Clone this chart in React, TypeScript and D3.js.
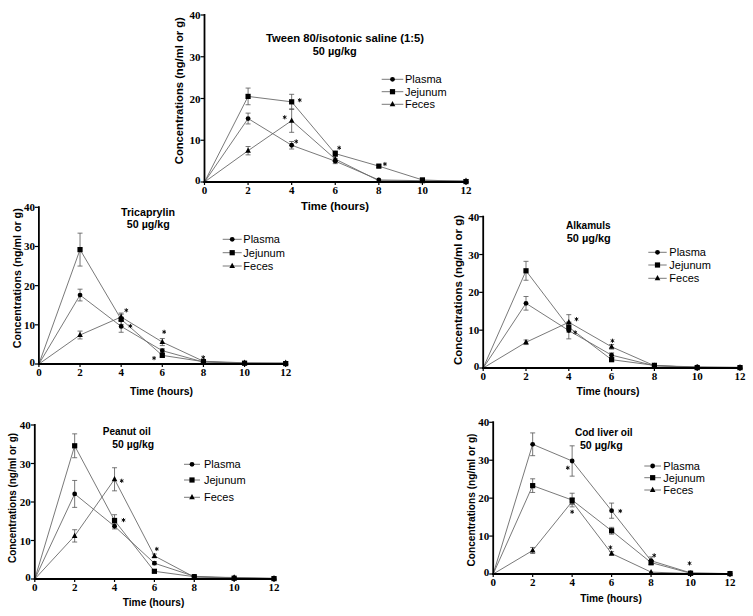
import React from "react";
import * as d3 from "d3";

const times = [0, 2, 4, 6, 8, 10, 12];
const xTicks = [0, 2, 4, 6, 8, 10, 12];
const yTicks = [0, 10, 20, 30, 40];
const seriesNames = ["Plasma", "Jejunum", "Feces"];
const doseLabel = "50 µg/kg";
const yLabel = "Concentrations (ng/ml or g)";
const xLabel = "Time (hours)";

// Panel 1: Tween 80/isotonic saline
const tweenPlasma = [0, 15.2, 8.8, 5.0, 0.5, 0.3, 0.1];
const tweenPlasmaErr = [0, 1.3, 0.9, 0.6, 0.2, 0.1, 0];
const tweenJejunum = [0, 20.5, 19.2, 6.8, 3.8, 0.5, 0.1];
const tweenJejunumErr = [0, 2.0, 1.8, 0.7, 0.3, 0.2, 0];
const tweenFeces = [0, 7.5, 14.7, 5.5, 0.3, 0.2, 0.3];
const tweenFecesErr = [0, 1.0, 2.8, 0.6, 0.1, 0.1, 0.3];
const tweenStars = [[4.37, 19.6], [3.68, 15.5], [4.21, 9.7], [6.18, 8.2], [8.28, 4.3]];

// Panel 2: Tricaprylin
const tricPlasma = [0, 17.6, 9.6, 3.4, 0.5, 0.2, 0.1];
const tricPlasmaErr = [0, 1.5, 1.5, 0.5, 0.2, 0.1, 0];
const tricJejunum = [0, 29.2, 11.4, 2.2, 0.6, 0.2, 0.1];
const tricJejunumErr = [0, 4.2, 1.3, 0.4, 0.2, 0.1, 0];
const tricFeces = [0, 7.4, 12.0, 5.6, 0.7, 0.3, 0.3];
const tricFecesErr = [0, 1.0, 1.0, 0.9, 0.3, 0.2, 0.3];
const tricStars = [[4.25, 13.7], [4.45, 9.7], [6.09, 8.2], [5.6, 1.5], [7.99, 1.7]];

// Panel 3: Alkamuls
const alkPlasma = [0, 17.1, 9.9, 3.4, 0.6, 0.3, 0.1];
const alkPlasmaErr = [0, 1.8, 2.2, 0.6, 0.2, 0.2, 0];
const alkJejunum = [0, 25.7, 10.8, 2.2, 0.7, 0.1, 0.1];
const alkJejunumErr = [0, 2.5, 1.3, 0.4, 0.2, 0.1, 0];
const alkFeces = [0, 6.8, 12.1, 5.6, 0.6, 0.2, 0.2];
const alkFecesErr = [0, 0.6, 2.0, 0.6, 0.2, 0.1, 0.3];
const alkStars = [[4.36, 12.9], [4.3, 9.4], [6.04, 7.2]];

// Panel 4: Peanut oil
const peanutPlasma = [0, 22.1, 13.7, 4.1, 0.7, 0.3, 0.1];
const peanutPlasmaErr = [0, 3.5, 0.7, 0.4, 0.2, 0.1, 0];
const peanutJejunum = [0, 34.6, 15.2, 2.0, 0.6, 0.2, 0.1];
const peanutJejunumErr = [0, 3.1, 1.5, 0.3, 0.2, 0.1, 0];
const peanutFeces = [0, 11.2, 25.9, 6.0, 0.5, 0.4, 0.2];
const peanutFecesErr = [0, 1.6, 3.0, 0.5, 0.2, 0.2, 0.3];
const peanutStars = [[4.36, 25.5], [4.45, 15.3], [6.12, 7.8]];

// Panel 5: Cod liver oil
const codPlasma = [0, 34.2, 29.8, 16.7, 3.5, 0.3, 0.1];
const codPlasmaErr = [0, 3.0, 4.0, 2.0, 1.0, 0.2, 0];
const codJejunum = [0, 23.3, 19.5, 11.4, 3.0, 0.2, 0.1];
const codJejunumErr = [0, 1.8, 1.8, 0.9, 0.6, 0.1, 0];
const codFeces = [0, 6.2, 19.1, 5.4, 0.5, 0.1, 0.1];
const codFecesErr = [0, 0.8, 0.8, 0.5, 0.2, 0.1, 0.2];
const codStars = [[3.78, 28.0], [4.0, 16.4], [6.44, 16.6], [5.94, 7.0], [8.16, 4.9], [9.95, 2.8]];

const titles = ["Tween 80/isotonic saline (1:5)", "Tricaprylin", "Alkamuls", "Peanut oil", "Cod liver oil"];

type Layout = {
  x0: number; x12: number; y0: number; y40: number;
  title: [number, number, number]; dose: [number, number, number];
  legend: { lx1: number; lx2: number; tx: number; rows: number[] };
  yl: [number, number, number]; xl: [number, number, number];
};

const layouts: Layout[] = [
  { x0: 204.5, x12: 466, y0: 182, y40: 15, title: [345, 41.5, 158], dose: [334.7, 54.5, 44],
    legend: { lx1: 381.7, lx2: 403.3, tx: 405, rows: [79.3, 91.7, 104.3] },
    yl: [182.5, 90.7, 147], xl: [335, 210, 68] },
  { x0: 38.9, x12: 285.7, y0: 364, y40: 207.3, title: [148, 216, 54], dose: [148.3, 228, 43],
    legend: { lx1: 222.7, lx2: 241.7, tx: 243.3, rows: [239.3, 252.7, 266] },
    yl: [21, 278.3, 140], xl: [161.5, 395, 63] },
  { x0: 483.2, x12: 740, y0: 368, y40: 216.7, title: [588.3, 228.5, 44.7], dose: [588.7, 241.7, 44],
    legend: { lx1: 648.3, lx2: 666.7, tx: 669.3, rows: [252.3, 265, 278.3] },
    yl: [462, 290, 150], xl: [608, 395, 63] },
  { x0: 34.8, x12: 274, y0: 579, y40: 425, title: [126.7, 435, 48], dose: [133.2, 448.3, 41.7],
    legend: { lx1: 184, lx2: 200, tx: 204, rows: [464.3, 480, 497.3] },
    yl: [16, 498, 130], xl: [153.5, 606, 61.6] },
  { x0: 493.2, x12: 730, y0: 574, y40: 422.3, title: [603.8, 435.7, 57.7], dose: [601.3, 449, 42.7],
    legend: { lx1: 644.3, lx2: 661, tx: 663.3, rows: [466, 477.7, 490] },
    yl: [475, 500, 133], xl: [611, 602, 61.7] },
];

const panelSeries = [
  [[tweenPlasma, tweenPlasmaErr], [tweenJejunum, tweenJejunumErr], [tweenFeces, tweenFecesErr]],
  [[tricPlasma, tricPlasmaErr], [tricJejunum, tricJejunumErr], [tricFeces, tricFecesErr]],
  [[alkPlasma, alkPlasmaErr], [alkJejunum, alkJejunumErr], [alkFeces, alkFecesErr]],
  [[peanutPlasma, peanutPlasmaErr], [peanutJejunum, peanutJejunumErr], [peanutFeces, peanutFecesErr]],
  [[codPlasma, codPlasmaErr], [codJejunum, codJejunumErr], [codFeces, codFecesErr]],
];
const panelStars = [tweenStars, tricStars, alkStars, peanutStars, codStars];

const SANS = "Liberation Sans, Arial, sans-serif";
const SERIF = "Liberation Serif, Times New Roman, serif";
const LINE = "#6a6a6a";

function Marker({ kind, x, y }: { kind: number; x: number; y: number }) {
  if (kind === 0) return <circle cx={x} cy={y} r={2.4} fill="#000" />;
  if (kind === 1) return <rect x={x - 2.6} y={y - 2.6} width={5.2} height={5.2} fill="#000" />;
  const p = d3.path();
  p.moveTo(x, y - 3.2);
  p.lineTo(x + 2.8, y + 2);
  p.lineTo(x - 2.8, y + 2);
  p.closePath();
  return <path d={p.toString()} fill="#000" />;
}

function Star({ x, y }: { x: number; y: number }) {
  const p = d3.path();
  const r = 2.1;
  for (let k = 0; k < 3; k++) {
    const a = (Math.PI / 3) * k + Math.PI / 2;
    p.moveTo(x + r * Math.cos(a), y - r * Math.sin(a));
    p.lineTo(x - r * Math.cos(a), y + r * Math.sin(a));
  }
  return <path d={p.toString()} stroke="#000" strokeWidth={0.9} fill="none" />;
}

function Panel({ idx }: { idx: number }) {
  const L = layouts[idx];
  const xs = d3.scaleLinear().domain([0, 12]).range([L.x0, L.x12]);
  const ys = d3.scaleLinear().domain([0, 40]).range([L.y0, L.y40]);
  const line = d3.line<number>().x((_, i) => xs(times[i])).y((v) => ys(v));
  const series = panelSeries[idx];
  return (
    <g>
      {series.map(([vals], si) => (
        <path key={"l" + si} d={line(vals) || ""} fill="none" stroke={LINE} strokeWidth={0.9} />
      ))}
      {series.map(([vals, errs], si) =>
        vals.map((v, i) =>
          errs[i] > 0.25 ? (
            <g key={"e" + si + "-" + i} stroke="#555" strokeWidth={0.8}>
              <line x1={xs(times[i])} x2={xs(times[i])} y1={ys(v - errs[i])} y2={ys(v + errs[i])} />
              <line x1={xs(times[i]) - 2.5} x2={xs(times[i]) + 2.5} y1={ys(v + errs[i])} y2={ys(v + errs[i])} />
              <line x1={xs(times[i]) - 2.5} x2={xs(times[i]) + 2.5} y1={ys(v - errs[i])} y2={ys(v - errs[i])} />
            </g>
          ) : null
        )
      )}
      {series.map(([vals], si) =>
        vals.map((v, i) => (i === 0 ? null : <Marker key={"m" + si + "-" + i} kind={si} x={xs(times[i])} y={ys(v)} />))
      )}
      {panelStars[idx].map(([t, v], i) => (
        <Star key={"s" + i} x={xs(t)} y={ys(v)} />
      ))}
      {/* axes */}
      <line x1={L.x0} x2={L.x0} y1={L.y0 + 1} y2={L.y40 - 1} stroke="#000" strokeWidth={1.8} />
      <line x1={L.x0 - 1} x2={L.x12 + 1} y1={L.y0} y2={L.y0} stroke="#000" strokeWidth={1.8} />
      {yTicks.map((t) => (
        <g key={"yt" + t}>
          <line x1={L.x0 - 4} x2={L.x0} y1={ys(t)} y2={ys(t)} stroke="#000" strokeWidth={1.2} />
          <text x={L.x0 - 4} y={ys(t) + (t === 0 ? 2 : 4)} textAnchor="end" fontFamily={SERIF} fontWeight="bold" fontSize={11}>
            {t}
          </text>
        </g>
      ))}
      {xTicks.map((t) => (
        <g key={"xt" + t}>
          <line x1={xs(t)} x2={xs(t)} y1={L.y0} y2={L.y0 + 3} stroke="#000" strokeWidth={1.2} />
          <text x={xs(t)} y={L.y0 + 12} textAnchor="middle" fontFamily={SERIF} fontWeight="bold" fontSize={11}>
            {t}
          </text>
        </g>
      ))}
      <text x={L.xl[0]} y={L.xl[1]} textAnchor="middle" fontFamily={SANS} fontWeight="bold" fontSize={11.5}
        textLength={L.xl[2]} lengthAdjust="spacingAndGlyphs">{xLabel}</text>
      <text transform={`translate(${L.yl[0]},${L.yl[1]}) rotate(-90)`} textAnchor="middle" fontFamily={SANS}
        fontWeight="bold" fontSize={11.5} textLength={L.yl[2]} lengthAdjust="spacingAndGlyphs">{yLabel}</text>
      <text x={L.title[0]} y={L.title[1]} textAnchor="middle" fontFamily={SANS} fontWeight="bold" fontSize={11}
        textLength={L.title[2]} lengthAdjust="spacingAndGlyphs">{titles[idx]}</text>
      <text x={L.dose[0]} y={L.dose[1]} textAnchor="middle" fontFamily={SANS} fontWeight="bold" fontSize={11}
        textLength={L.dose[2]} lengthAdjust="spacingAndGlyphs">{doseLabel}</text>
      {seriesNames.map((name, si) => {
        const ry = L.legend.rows[si];
        const mx = (L.legend.lx1 + L.legend.lx2) / 2;
        return (
          <g key={"lg" + si}>
            <line x1={L.legend.lx1} x2={L.legend.lx2} y1={ry} y2={ry} stroke={LINE} strokeWidth={0.9} />
            <Marker kind={si} x={mx} y={ry} />
            <text x={L.legend.tx} y={ry + 4} fontFamily={SANS} fontSize={11}>{name}</text>
          </g>
        );
      })}
    </g>
  );
}

export default function App() {
  return (
    <svg width={753} height={616} style={{ position: "absolute", left: 0, top: 0, background: "#fff" }}>
      <rect width={753} height={616} fill="#fff" />
      {layouts.map((_, i) => (
        <Panel key={i} idx={i} />
      ))}
    </svg>
  );
}
